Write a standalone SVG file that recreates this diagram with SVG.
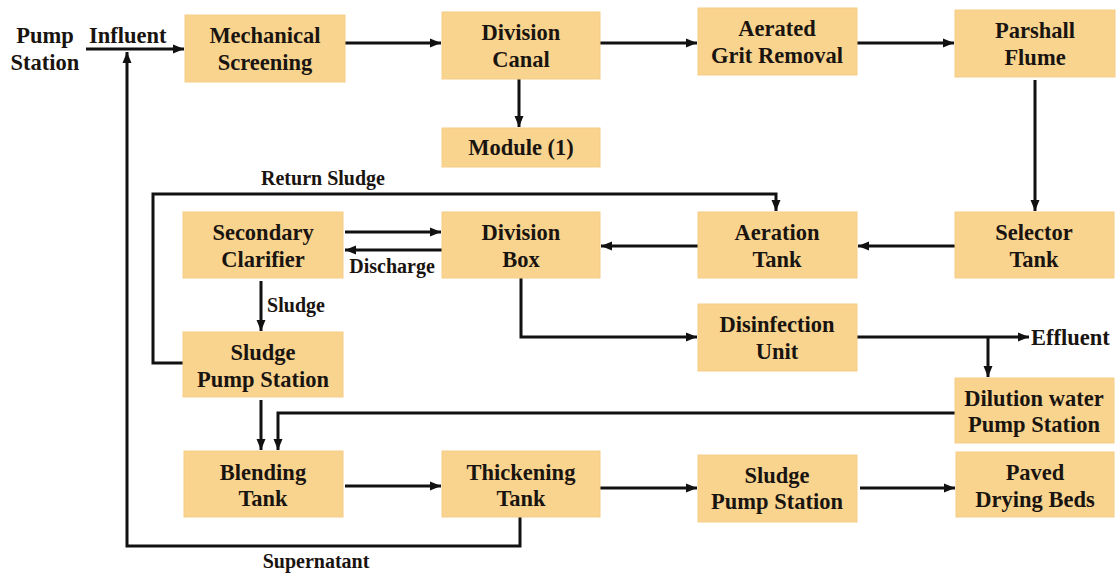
<svg xmlns="http://www.w3.org/2000/svg" width="1116" height="574" viewBox="0 0 1116 574">
<style>
.box{fill:#F9D48F;stroke:#F6CD86;stroke-width:1}
.t{font-family:"Liberation Serif","Times New Roman",serif;font-weight:bold;font-size:22.5px;fill:#1a1410;text-anchor:middle}
.l{font-family:"Liberation Serif","Times New Roman",serif;font-weight:bold;font-size:20px;fill:#1a1410;text-anchor:middle}
.c{fill:none;stroke:#111;stroke-width:3}
</style>
<defs>
<marker id="ah" markerUnits="userSpaceOnUse" markerWidth="12" markerHeight="10" refX="11" refY="5" orient="auto">
<path d="M0,0.5 L11,5 L0,9.5 z" fill="#111"/>
</marker>
</defs>
<rect width="1116" height="574" fill="#ffffff"/>
<g id="connectors">
<path class="c" d="M86,49 H184" marker-end="url(#ah)"/>
<path class="c" d="M520,517 V546 H127 V52" marker-end="url(#ah)"/>
<path class="c" d="M345,43 H441" marker-end="url(#ah)"/>
<path class="c" d="M600,43 H697" marker-end="url(#ah)"/>
<path class="c" d="M857,43 H954" marker-end="url(#ah)"/>
<path class="c" d="M519,79 V127" marker-end="url(#ah)"/>
<path class="c" d="M1035,80 V211" marker-end="url(#ah)"/>
<path class="c" d="M955,246 H858" marker-end="url(#ah)"/>
<path class="c" d="M698,246 H601" marker-end="url(#ah)"/>
<path class="c" d="M345,232 H441" marker-end="url(#ah)"/>
<path class="c" d="M442,250 H345" marker-end="url(#ah)"/>
<path class="c" d="M521,278 V337 H697" marker-end="url(#ah)"/>
<path class="c" d="M857,337 H1029" marker-end="url(#ah)"/>
<path class="c" d="M988,337 V377" marker-end="url(#ah)"/>
<path class="c" d="M955,413 H278 V450" marker-end="url(#ah)"/>
<path class="c" d="M261,281 V331" stroke-width="2.5" marker-end="url(#ah)"/>
<path class="c" d="M261,400 V450" marker-end="url(#ah)"/>
<path class="c" d="M183,363 H153 V194 H776 V211" marker-end="url(#ah)"/>
<path class="c" d="M345,486 H441" marker-end="url(#ah)"/>
<path class="c" d="M600,488 H697" marker-end="url(#ah)"/>
<path class="c" d="M860,488 H955" marker-end="url(#ah)"/>
<text class="l" x="323" y="185">Return Sludge</text>
<text class="l" x="392" y="273">Discharge</text>
<text class="l" x="296" y="312">Sludge</text>
<text class="l" x="316" y="568">Supernatant</text>
<text class="t" x="45" y="43">Pump</text>
<text class="t" x="45" y="70">Station</text>
<text class="t" x="89" y="43" style="text-anchor:start">Influent</text>
<text class="t" x="1031" y="345" style="text-anchor:start">Effluent</text>
</g>
<g id="mechanical-screening"><rect class="box" x="185" y="15" width="160" height="67"/><text class="t" x="265" y="43">Mechanical</text><text class="t" x="265" y="70">Screening</text></g>
<g id="division-canal"><rect class="box" x="442" y="12" width="158" height="67"/><text class="t" x="521" y="40">Division</text><text class="t" x="521" y="67">Canal</text></g>
<g id="module-1"><rect class="box" x="442" y="128" width="158" height="39"/><text class="t" x="521" y="155">Module (1)</text></g>
<g id="aerated-grit-removal"><rect class="box" x="698" y="8" width="159" height="67"/><text class="t" x="777" y="36">Aerated</text><text class="t" x="777" y="63">Grit Removal</text></g>
<g id="parshall-flume"><rect class="box" x="955" y="10" width="160" height="67"/><text class="t" x="1035" y="38">Parshall</text><text class="t" x="1035" y="65">Flume</text></g>
<g id="selector-tank"><rect class="box" x="955" y="212" width="159" height="66"/><text class="t" x="1034" y="240">Selector</text><text class="t" x="1034" y="267">Tank</text></g>
<g id="aeration-tank"><rect class="box" x="698" y="212" width="159" height="66"/><text class="t" x="777" y="240">Aeration</text><text class="t" x="777" y="267">Tank</text></g>
<g id="division-box"><rect class="box" x="442" y="212" width="158" height="66"/><text class="t" x="521" y="240">Division</text><text class="t" x="521" y="267">Box</text></g>
<g id="secondary-clarifier"><rect class="box" x="183" y="212" width="160" height="66"/><text class="t" x="263" y="240">Secondary</text><text class="t" x="263" y="267">Clarifier</text></g>
<g id="disinfection-unit"><rect class="box" x="698" y="304" width="159" height="67"/><text class="t" x="777" y="332">Disinfection</text><text class="t" x="777" y="359">Unit</text></g>
<g id="dilution-water-pump-station"><rect class="box" x="955" y="378" width="159" height="65"/><text class="t" x="1034" y="406">Dilution water</text><text class="t" x="1034" y="432">Pump Station</text></g>
<g id="sludge-pump-station-1"><rect class="box" x="183" y="332" width="160" height="65"/><text class="t" x="263" y="360">Sludge</text><text class="t" x="263" y="387">Pump Station</text></g>
<g id="blending-tank"><rect class="box" x="184" y="451" width="159" height="66"/><text class="t" x="263" y="480">Blending</text><text class="t" x="263" y="506">Tank</text></g>
<g id="thickening-tank"><rect class="box" x="442" y="451" width="158" height="66"/><text class="t" x="521" y="480">Thickening</text><text class="t" x="521" y="506">Tank</text></g>
<g id="sludge-pump-station-2"><rect class="box" x="698" y="455" width="159" height="67"/><text class="t" x="777" y="483">Sludge</text><text class="t" x="777" y="509">Pump Station</text></g>
<g id="paved-drying-beds"><rect class="box" x="956" y="452" width="158" height="65"/><text class="t" x="1035" y="480">Paved</text><text class="t" x="1035" y="507">Drying Beds</text></g>
</svg>
